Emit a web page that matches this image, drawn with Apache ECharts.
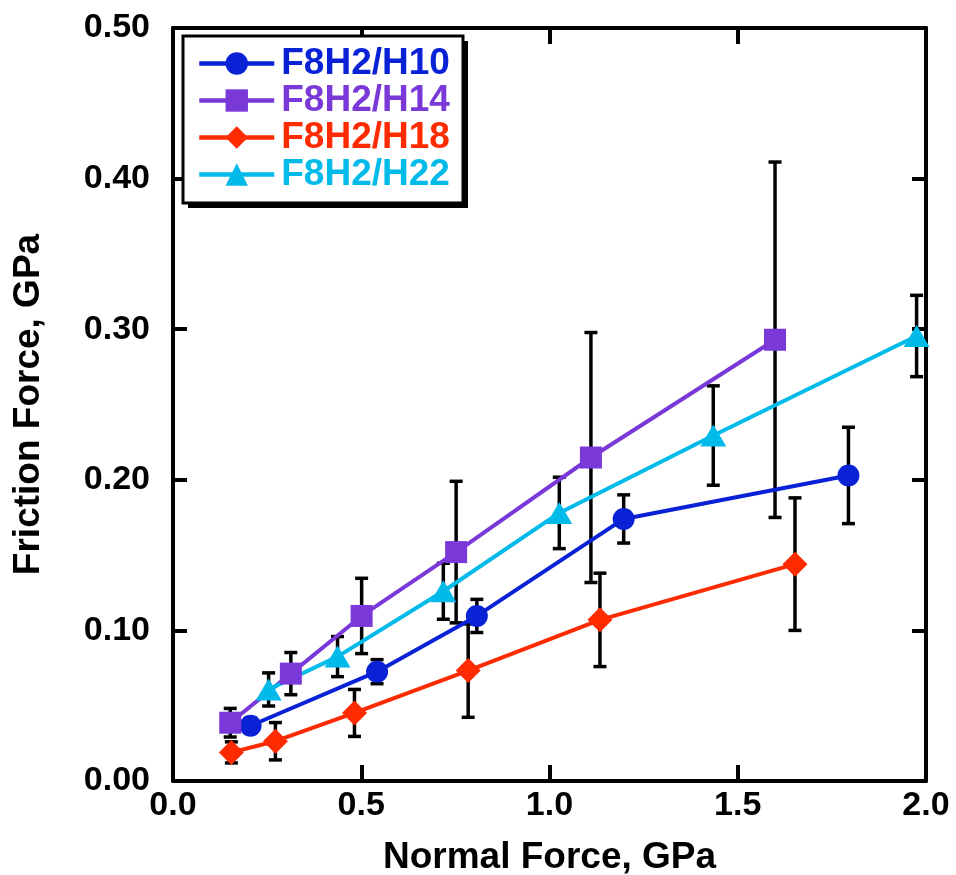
<!DOCTYPE html>
<html>
<head>
<meta charset="utf-8">
<script src="https://cdn.jsdelivr.net/npm/echarts@6/dist/echarts.min.js"></script>
<style>
html,body{margin:0;padding:0;background:#fff;}
#chart{width:956px;height:875px;}
</style>
</head>
<body>
<div id="chart"></div>
<script>
// ---- data ----
const seriesNames = ['F8H2/H10', 'F8H2/H14', 'F8H2/H18', 'F8H2/H22'];
const xTicks = [0.0, 0.5, 1.0, 1.5, 2.0];
const yTicks = [0.00, 0.10, 0.20, 0.30, 0.40, 0.50];

const h10X = [0.206, 0.542, 0.807, 1.197, 1.794];
const h10Y = [0.0367, 0.0726, 0.1096, 0.174, 0.2029];
const h10E = [0.005, 0.008, 0.011, 0.016, 0.032];

const h14X = [0.152, 0.313, 0.501, 0.752, 1.110, 1.599];
const h14Y = [0.0387, 0.0713, 0.1096, 0.152, 0.2148, 0.293];
const h14E = [0.0095, 0.014, 0.025, 0.047, 0.083, 0.118];

const h18X = [0.155, 0.272, 0.482, 0.784, 1.134, 1.652];
const h18Y = [0.019, 0.0264, 0.0452, 0.0733, 0.107, 0.144];
const h18E = [0.007, 0.0124, 0.0156, 0.031, 0.031, 0.044];

const h22X = [0.254, 0.437, 0.718, 1.026, 1.435, 1.975];
const h22Y = [0.0608, 0.0826, 0.126, 0.178, 0.2294, 0.2955];
const h22E = [0.011, 0.0133, 0.0186, 0.0237, 0.033, 0.027];

const colors = ['#0A22D6', '#7A38D8', '#FF2B00', '#00BAEA'];
const symbols = ['circle', 'rect', 'diamond', 'triangle'];
const symbolSizes = [22, 22, 25, [26, 22]];

const FONT = '"Liberation Sans", Arial, Helvetica, sans-serif';

const allX = [h10X, h14X, h18X, h22X];
const allY = [h10Y, h14Y, h18Y, h22Y];
const allE = [h10E, h14E, h18E, h22E];

const chart = echarts.init(document.getElementById('chart'), null, {renderer: 'canvas'});

const series = [];
// error bars
for (let s = 0; s < 4; s++) {
  const d = allX[s].map((x, i) => [x, allY[s][i] - allE[s][i], allY[s][i] + allE[s][i]]);
  series.push({
    type: 'custom',
    name: 'err' + s,
    z: 1,
    silent: true,
    data: d,
    renderItem: function (params, api) {
      const x = api.value(0);
      const lo = api.coord([x, api.value(1)]);
      const hi = api.coord([x, api.value(2)]);
      const cw = 6.5;
      const st = {stroke: '#000', lineWidth: 3.5};
      return {
        type: 'group',
        children: [
          {type: 'line', shape: {x1: lo[0], y1: lo[1], x2: hi[0], y2: hi[1]}, style: st},
          {type: 'line', shape: {x1: lo[0] - cw, y1: lo[1], x2: lo[0] + cw, y2: lo[1]}, style: st},
          {type: 'line', shape: {x1: hi[0] - cw, y1: hi[1], x2: hi[0] + cw, y2: hi[1]}, style: st}
        ]
      };
    }
  });
}
for (let s = 0; s < 4; s++) {
  series.push({
    type: 'line',
    name: seriesNames[s],
    z: 3,
    data: allX[s].map((x, i) => [x, allY[s][i]]),
    symbol: symbols[s],
    symbolSize: symbolSizes[s],
    showAllSymbol: true,
    lineStyle: {color: colors[s], width: 4},
    itemStyle: {color: colors[s], opacity: 1},
    emphasis: {disabled: true},
    animation: false
  });
}

const axisLabelStyle = {fontFamily: FONT, fontWeight: 'bold', fontSize: 34, color: '#000'};

chart.setOption({
  animation: false,
  backgroundColor: '#fff',
  grid: {left: 173, top: 28, width: 753, height: 753, containLabel: false, outerBoundsMode: 'none'},
  graphic: [
    {type: 'rect', z: 10, shape: {x: 188, y: 41, width: 280, height: 167}, style: {fill: '#000'}},
    {type: 'rect', z: 11, shape: {x: 183, y: 36, width: 280, height: 167}, style: {fill: '#fff', stroke: '#000', lineWidth: 3}}
  ],
  legend: {
    z: 20,
    data: seriesNames.map((n, i) => ({name: n, textStyle: {color: colors[i]}})),
    orient: 'vertical',
    left: 197,
    top: 45,
    padding: 0,
    itemGap: 0,
    itemWidth: 75,
    itemHeight: 28,
    lineStyle: {width: 4.5},
    selectedMode: false,
    textStyle: {fontFamily: FONT, fontWeight: 'bold', fontSize: 37, lineHeight: 36.3, padding: [0, 0, 0, 2]}
  },
  xAxis: [{
    type: 'value', min: 0, max: 2, interval: 0.5, position: 'bottom',
    name: 'Normal Force, GPa', nameLocation: 'middle', nameGap: 58,
    nameTextStyle: {fontFamily: FONT, fontWeight: 'bold', fontSize: 37, color: '#000'},
    axisLine: {show: true, onZero: false, lineStyle: {color: '#000', width: 4}},
    axisTick: {show: true, inside: true, length: 16, lineStyle: {color: '#000', width: 4}},
    axisLabel: Object.assign({margin: 8, formatter: v => v.toFixed(1)}, axisLabelStyle),
    splitLine: {show: false}
  }, {
    type: 'value', min: 0, max: 2, interval: 0.5, position: 'top',
    axisLine: {show: true, onZero: false, lineStyle: {color: '#000', width: 4}},
    axisTick: {show: true, inside: true, length: 16, lineStyle: {color: '#000', width: 4}},
    axisLabel: {show: false},
    splitLine: {show: false}
  }],
  yAxis: [{
    type: 'value', min: 0, max: 0.5, interval: 0.1, position: 'left',
    name: 'Friction Force, GPa', nameLocation: 'middle', nameGap: 126, nameRotate: 90,
    nameTextStyle: {fontFamily: FONT, fontWeight: 'bold', fontSize: 37, color: '#000'},
    axisLine: {show: true, onZero: false, lineStyle: {color: '#000', width: 4}},
    axisTick: {show: true, inside: true, length: 14, lineStyle: {color: '#000', width: 4}},
    axisLabel: Object.assign({margin: 23, formatter: v => v.toFixed(2)}, axisLabelStyle),
    splitLine: {show: false}
  }, {
    type: 'value', min: 0, max: 0.5, interval: 0.1, position: 'right',
    axisLine: {show: true, onZero: false, lineStyle: {color: '#000', width: 4}},
    axisTick: {show: true, inside: true, length: 14, lineStyle: {color: '#000', width: 4}},
    axisLabel: {show: false},
    splitLine: {show: false}
  }],
  series: series
});
</script>
</body>
</html>
